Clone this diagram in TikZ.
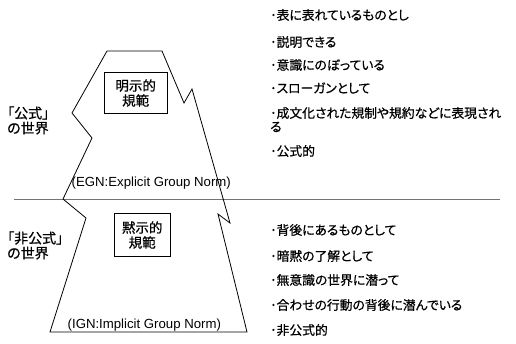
\documentclass[tikz,border=0pt]{standalone}
\usepackage{fontspec}
\setmainfont{Noto Sans CJK JP}[RawFeature=+palt,FakeBold=0.6]
\newfontfamily\latinfont{Liberation Sans}
\begin{document}
\begin{tikzpicture}[x=1pt,y=-1pt,
  txt/.style={inner sep=0pt,font=\fontsize{12.8}{15}\selectfont,anchor=west},
  normbox/.style={draw,line width=0.8pt,align=center,font=\fontsize{13.5}{15}\selectfont,inner sep=0pt},
  lat/.style={inner sep=0pt,anchor=west,font=\latinfont\fontsize{13.2}{14}\selectfont},
  world/.style={inner sep=0pt,anchor=west,align=left,font=\fontsize{14}{15}\selectfont},
  berg/.style={draw,line width=0.8pt,line join=miter},
  water/.style={draw=black!55,line width=1.3pt}]
\useasboundingbox (0,0) rectangle (516,343);
% waterline
\coordinate (wl) at (14,199.5);
\coordinate (wr) at (500,199.5);
\draw[water] (wl) -- (wr);
% iceberg
\draw[berg] (107,51) -- (162,51) -- (184,103) -- (192,89) -- (230,223) -- (218,214) -- (247,332)
  -- (50,332) -- (86,218) -- (63,199) -- (92,138) -- (72,113) -- cycle;
% boxes
\node[normbox,minimum width=63pt,minimum height=40.5pt] (exp) at (135.7,93) {明示的\\規範};
\node[normbox,minimum width=56pt,minimum height=43.5pt] (imp) at (142.2,235) {黙示的\\規範};
% norm labels
\node[lat] (egn) at (71.5,183.5) {(EGN:Explicit Group Norm)};
\node[lat] (ign) at (67.5,325) {(IGN:Implicit Group Norm)};
% world labels
\node[world] (pub) at (7,120.5) {「公式」\\の世界};
\node[world] (priv) at (7,245.5) {「非公式」\\の世界};
% upper list
\node[txt] (u1) at (270,15) {･表に表れているものとし};
\node[txt] (u2) at (270,42) {･説明できる};
\node[txt] (u3) at (270,65) {･意識にのぼっている};
\node[txt] (u4) at (270,88) {･スローガンとして};
\node[txt] (u5) at (270,113) {･成文化された規制や規約などに表現され};
\node[txt] (u5b) at (270,127) {る};
\node[txt] (u6) at (270,151) {･公式的};
% lower list
\node[txt] (l1) at (270,230) {･背後にあるものとして};
\node[txt] (l2) at (270,256) {･暗黙の了解として};
\node[txt] (l3) at (270,280) {･無意識の世界に潜って};
\node[txt] (l4) at (270,305) {･合わせの行動の背後に潜んでいる};
\node[txt] (l5) at (270,330) {･非公式的};
\end{tikzpicture}
\end{document}
